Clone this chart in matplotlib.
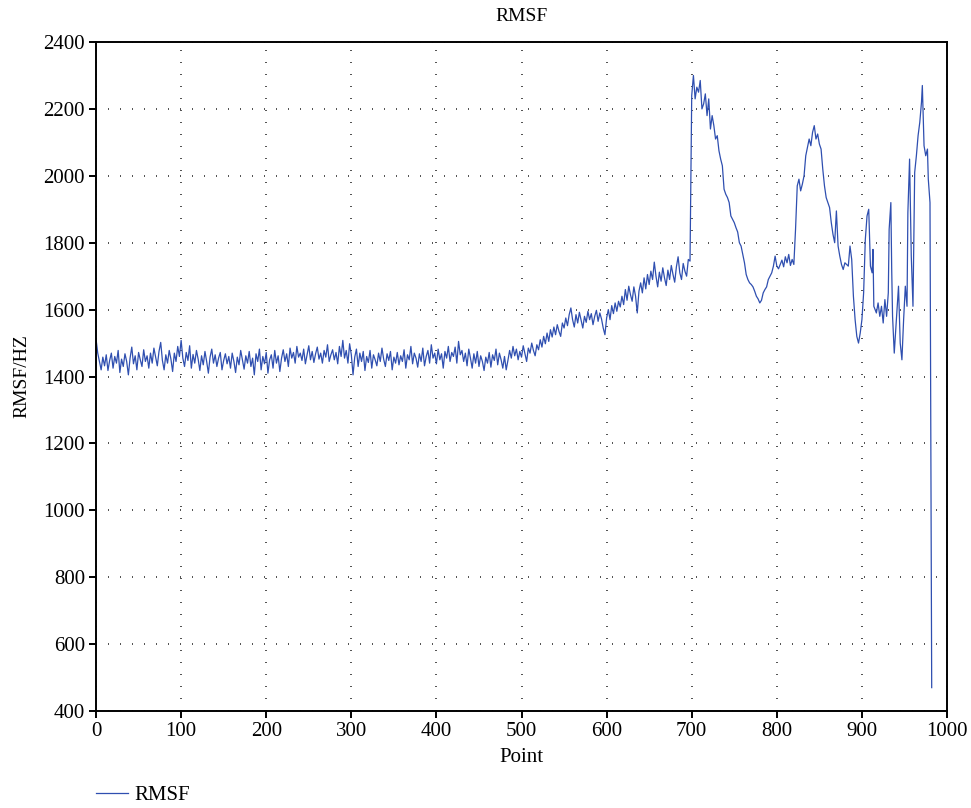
import numpy as np
import matplotlib
matplotlib.use("Agg")
import matplotlib.pyplot as plt

# RMSF values, every 2 points from 0 to 884
rmsf_main = [
    1512, 1470, 1445, 1420, 1458, 1432, 1465, 1418, 1448, 1470,
    1425, 1460, 1440, 1478, 1412, 1452, 1430, 1468, 1445, 1405,
    1455, 1488, 1438, 1462, 1420, 1472, 1450, 1430, 1480, 1445,
    1462, 1425, 1470, 1440, 1485, 1458, 1432, 1475, 1502, 1448,
    1420, 1465, 1440, 1478, 1452, 1415, 1470, 1445, 1490, 1460,
    1508, 1455, 1430, 1472, 1448, 1492, 1425, 1466, 1440, 1478,
    1452, 1418, 1462, 1435, 1475, 1445, 1410, 1458, 1482, 1440,
    1465, 1430, 1455, 1472, 1420, 1448, 1468, 1438, 1460, 1425,
    1470, 1445, 1412, 1458, 1435, 1478, 1450, 1422, 1462, 1440,
    1475, 1430, 1455, 1405, 1468, 1445, 1482, 1420, 1460, 1438,
    1472, 1410, 1450, 1465, 1425, 1478, 1440, 1462, 1415, 1455,
    1480, 1445, 1468, 1430, 1485, 1455, 1472, 1440, 1490, 1458,
    1470, 1448, 1482, 1438, 1465, 1492, 1450, 1475, 1442, 1468,
    1488, 1452, 1470, 1440, 1478, 1458, 1495, 1445, 1465, 1480,
    1450, 1472, 1438, 1490, 1460, 1508, 1455, 1478, 1440, 1498,
    1465, 1405, 1458, 1482, 1430, 1470, 1445, 1475, 1418, 1460,
    1442, 1478, 1425, 1465, 1450, 1432, 1470, 1445, 1485, 1452,
    1430, 1468, 1448, 1475, 1420, 1458, 1440, 1472, 1435, 1462,
    1445, 1480, 1425, 1465, 1450, 1490, 1438, 1470, 1455, 1428,
    1468, 1445, 1485, 1432, 1460, 1478, 1440, 1495, 1455, 1470,
    1438, 1482, 1450, 1468, 1425, 1475, 1455, 1490, 1445, 1472,
    1460, 1488, 1440, 1505, 1465, 1478, 1445, 1470, 1432, 1482,
    1455, 1425, 1468, 1440, 1475, 1430, 1462, 1445, 1418, 1458,
    1440, 1472, 1428, 1465, 1448, 1482, 1435, 1470, 1450, 1425,
    1460, 1420, 1448, 1478, 1455, 1490, 1462, 1482, 1450, 1475,
    1458, 1492, 1468, 1445, 1485, 1470, 1500, 1478, 1462, 1495,
    1480, 1510, 1488, 1520, 1498, 1530, 1505, 1540, 1518, 1548,
    1525, 1555, 1535, 1520, 1560, 1545, 1575, 1552, 1585, 1605,
    1570, 1548, 1585, 1560, 1592, 1568, 1545, 1580, 1562, 1595,
    1570, 1588, 1555, 1580, 1598, 1565, 1590, 1572, 1545, 1525,
    1575, 1600, 1570, 1612, 1588, 1620, 1595, 1625, 1608, 1640,
    1615, 1660, 1628, 1670, 1645, 1625, 1668, 1640, 1590, 1655,
    1680, 1650, 1695, 1662, 1705, 1675, 1715, 1690, 1742, 1700,
    1668, 1712, 1685, 1725, 1695, 1672, 1718, 1690, 1732, 1705,
    1682, 1728, 1758, 1710, 1690, 1738, 1715, 1700, 1750, 1745,
    2240, 2300, 2230, 2265, 2250, 2285, 2200, 2215, 2245, 2180,
    2230, 2140, 2180, 2150, 2110, 2120, 2075, 2050, 2030, 1960,
    1945, 1935, 1920, 1880, 1870, 1860, 1845, 1832, 1800, 1790,
    1765, 1740, 1705, 1690, 1680, 1675, 1668, 1655, 1640, 1632,
    1620, 1628, 1650, 1660, 1668, 1690, 1700, 1710, 1730, 1760,
    1730, 1722, 1735, 1748, 1728, 1758, 1740, 1765, 1732, 1750,
    1735, 1840, 1970, 1990, 1955, 1975, 2000, 2060, 2085, 2110,
    2090, 2130, 2150, 2110, 2125, 2095, 2080, 2020, 1970, 1935,
    1920, 1905, 1860, 1825, 1800, 1895, 1790, 1760, 1735, 1720,
    1740, 1735, 1730,
]
points_main = list(range(0, 886, 2))

# the jagged tail, read at the points where it turns
points_tail = [886, 888, 890, 892, 894, 896, 898, 900, 902, 904, 906, 908,
               910, 912, 913, 914, 917, 919, 921, 923, 925, 927, 929, 931,
               932, 934, 935, 936, 938, 941, 943, 945, 947, 949, 951, 953,
               954, 956, 958, 960, 962, 964, 966, 968, 970, 971, 973, 975,
               977, 978, 980, 981, 982]
rmsf_tail = [1790, 1750, 1640, 1570, 1520, 1500, 1530, 1570, 1650, 1810, 1880, 1900,
             1730, 1710, 1780, 1610, 1590, 1620, 1580, 1610, 1560, 1630, 1580, 1650,
             1840, 1920, 1720, 1580, 1470, 1590, 1670, 1500, 1450, 1570, 1670, 1610,
             1890, 2050, 1760, 1610, 2010, 2060, 2120, 2160, 2220, 2270, 2090, 2060,
             2080, 1990, 1920, 1190, 470]

points = np.array(points_main + points_tail)
rmsf = np.array(rmsf_main + rmsf_tail)

plt.rcParams["font.family"] = ["Liberation Serif", "DejaVu Serif"]

fig = plt.figure(figsize=(9.71, 8.08), dpi=100)
ax = fig.add_axes([0.0989, 0.12, 0.8764, 0.828])

ax.plot(points, rmsf, color="#2f4fb0", linewidth=0.9, label="RMSF")

ax.set_xlim(0, 1000)
ax.set_ylim(400, 2400)
ax.set_xticks(np.arange(0, 1001, 100))
ax.set_yticks(np.arange(400, 2401, 200))
ax.grid(True, color="#333333", linewidth=1.2, linestyle=(0, (0.6, 6.6)))

for spine in ax.spines.values():
    spine.set_linewidth(1.4)
ax.tick_params(direction="out", length=5, width=1.4, labelsize=15, pad=3)

ax.set_title("RMSF", fontsize=14, pad=15)
ax.set_xlabel("Point", fontsize=15, labelpad=5)
ax.set_ylabel("RMSF/HZ", fontsize=14, labelpad=9)

fig.legend(loc="center left", bbox_to_anchor=(0.0989, 1 - 795 / 808), frameon=False,
           fontsize=15, handlelength=1.55, handletextpad=0.3,
           borderpad=0, borderaxespad=0)

fig.savefig("out.png", dpi=100)
